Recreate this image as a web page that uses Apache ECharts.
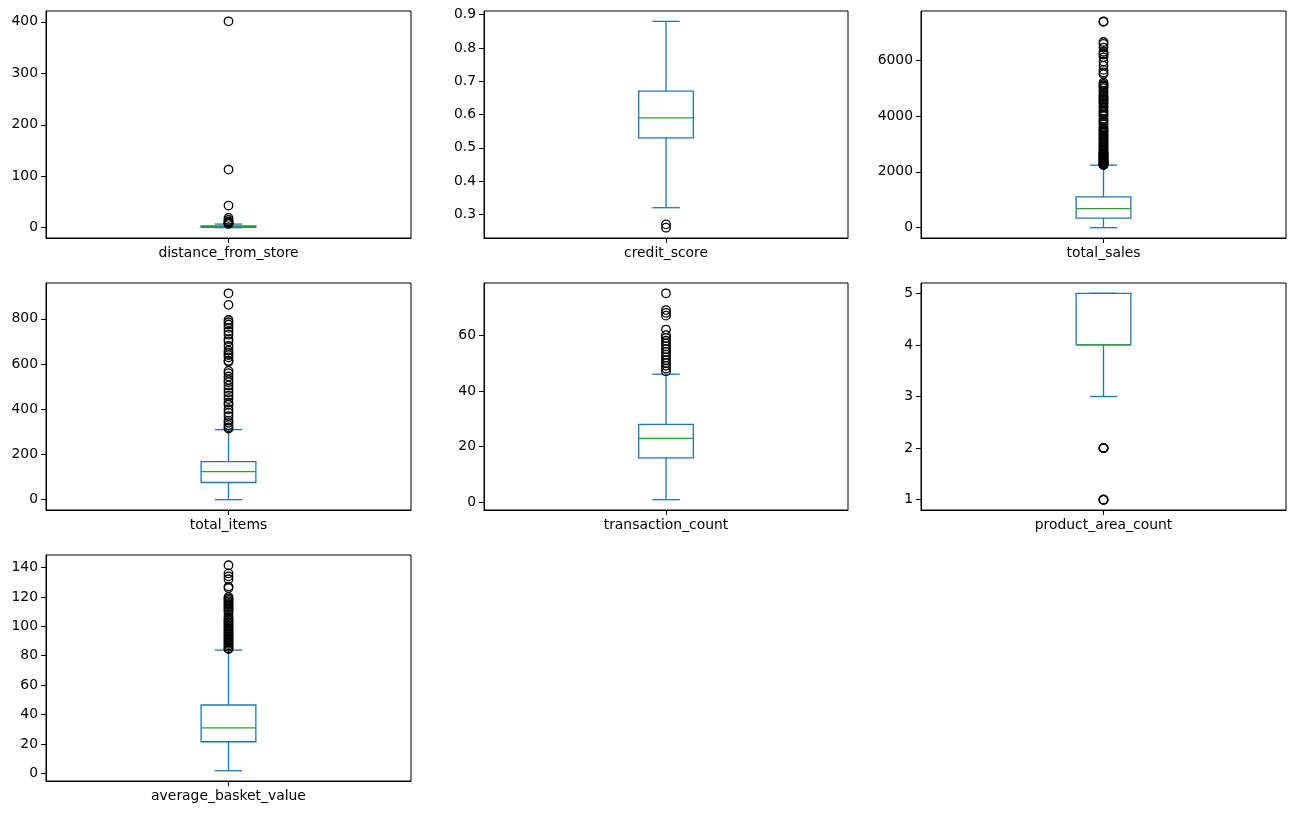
<!DOCTYPE html>
<html>
<head>
<meta charset="utf-8">
<script src="https://cdn.jsdelivr.net/npm/echarts@6/dist/echarts.min.js"></script>
<style>
html,body{margin:0;padding:0;background:#fff;}
#chart{width:1296px;height:815px;}
</style>
</head>
<body>
<div id="chart"></div>
<script>
// ---- DATA ----
const categories = ['distance_from_store','credit_score','total_sales','total_items','transaction_count','product_area_count','average_basket_value'];

// box stats: [lowWhisker, Q1, median, Q3, highWhisker]
const distanceBox = [0, 0.7, 1.6, 3.3, 7];
const creditBox = [0.32, 0.53, 0.59, 0.67, 0.88];
const salesBox = [0, 345, 683, 1100, 2239];
const itemsBox = [0, 76, 124, 168, 310];
const transactionBox = [1, 16, 23, 28, 46];
const productAreaBox = [3, 4, 4, 5, 5];
const basketBox = [1.8, 21.5, 31, 46.5, 83.8];

const distanceOutliers = [401, 113, 43, 19, 15, 12, 10, 9, 8, 7.5];
const creditOutliers = [0.26, 0.27];
const salesOutliers = [7390, 7370, 6650, 6580, 6450, 6300, 6240, 6200, 6100, 5950, 5800, 5650, 5560, 5500, 5200, 5150, 5100, 5050, 5000, 4900, 4850, 4750, 4700, 4650, 4600, 4550, 4500, 4450, 4350, 4300, 4200, 4150, 4100, 4050, 4000, 3900, 3850, 3800, 3750, 3700, 3600, 3550, 3500, 3450, 3400, 3350, 3300, 3250, 3200, 3150, 3100, 3050, 3000, 2950, 2900, 2850, 2800, 2750, 2700, 2680, 2650, 2620, 2600, 2580, 2550, 2520, 2500, 2480, 2450, 2420, 2400, 2380, 2350, 2320, 2300, 2280, 2270, 2260, 2250, 2245];
const itemsOutliers = [913, 862, 795, 785, 775, 760, 745, 730, 710, 700, 680, 660, 650, 640, 630, 615, 610, 570, 560, 545, 530, 520, 505, 490, 475, 460, 445, 430, 420, 400, 385, 370, 350, 340, 330, 320, 315];
const transactionOutliers = [75, 69, 68, 67, 62, 60, 59, 58, 57, 56, 55, 54, 53, 52, 51, 50, 49, 48, 47];
const productAreaOutliers = [2, 2, 2, 2, 1, 1, 1, 1];
const basketOutliers = [141.5, 136, 134, 132, 127, 126, 120, 119, 118, 117, 116, 115, 114, 113, 112, 111, 110, 108, 106, 105, 104, 103, 102, 101, 100, 99, 98, 97, 96, 95, 94, 93, 92, 91, 90, 89, 88, 87, 86, 85, 84.5];

const distanceTicks = [0, 100, 200, 300, 400];
const creditTicks = [0.3, 0.4, 0.5, 0.6, 0.7, 0.8, 0.9];
const salesTicks = [0, 2000, 4000, 6000];
const itemsTicks = [0, 200, 400, 600, 800];
const transactionTicks = [0, 20, 40, 60];
const productAreaTicks = [1, 2, 3, 4, 5];
const basketTicks = [0, 20, 40, 60, 80, 100, 120, 140];

// ---- LAYOUT ----
const boxes = [distanceBox, creditBox, salesBox, itemsBox, transactionBox, productAreaBox, basketBox];
const outliers = [distanceOutliers, creditOutliers, salesOutliers, itemsOutliers, transactionOutliers, productAreaOutliers, basketOutliers];
const ticks = [distanceTicks, creditTicks, salesTicks, itemsTicks, transactionTicks, productAreaTicks, basketTicks];
const decimals = [0, 1, 0, 0, 0, 0, 0];

const colLeft = [46, 484, 921];
const colWidth = [365, 364, 365];
const rowTop = [11, 283, 555];
const rowHeight = [227, 227, 226];

const FONT = 'DejaVu Sans';
const BLUE = '#1f77b4';
const GREEN = '#2ca02c';

const grids = [], xAxes = [], yAxes = [], series = [];
categories.forEach((name, i) => {
  const r = Math.floor(i / 3), c = i % 3;
  grids.push({left: colLeft[c], top: rowTop[r], width: colWidth[c], height: rowHeight[r],
    show: true, borderColor: '#000', borderWidth: 1, backgroundColor: 'transparent', containLabel: false});
  const all = boxes[i].concat(outliers[i]);
  const lo = Math.min.apply(null, all), hi = Math.max.apply(null, all);
  const pad = (hi - lo) * 0.05;
  xAxes.push({gridIndex: i, type: 'category', data: [name], boundaryGap: true, position: 'bottom',
    axisLine: {show: true, onZero: false, lineStyle: {color: '#000', width: 1}},
    axisTick: {show: true, alignWithLabel: true, length: 5, lineStyle: {color: '#000', width: 1}},
    axisLabel: {color: '#000', fontSize: 13.9, fontFamily: FONT, margin: 8},
    splitLine: {show: false}});
  const d = decimals[i];
  yAxes.push({gridIndex: i, type: 'value', min: lo - pad, max: hi + pad, position: 'left',
    axisLine: {show: true, onZero: false, lineStyle: {color: '#000', width: 1}},
    axisTick: {show: true, length: 5, customValues: ticks[i], lineStyle: {color: '#000', width: 1}},
    axisLabel: {show: true, customValues: ticks[i], color: '#000', fontSize: 13.9, fontFamily: FONT, margin: 8,
      formatter: v => Number(v).toFixed(d)},
    splitLine: {show: false}});
  series.push({
    type: 'custom', xAxisIndex: i, yAxisIndex: i, z: 2, silent: true,
    data: [[0].concat(boxes[i])],
    encode: {x: 0, y: [1, 2, 3, 4, 5]},
    renderItem: function (params, api) {
      const idx = api.value(0);
      const band = api.size([1, 0])[0];
      const bw = band * 0.15, cw = bw / 2;
      const cx = api.coord([idx, api.value(3)])[0];
      const yLow = api.coord([idx, api.value(1)])[1];
      const yQ1 = api.coord([idx, api.value(2)])[1];
      const yMed = api.coord([idx, api.value(3)])[1];
      const yQ3 = api.coord([idx, api.value(4)])[1];
      const yHigh = api.coord([idx, api.value(5)])[1];
      const ls = {stroke: BLUE, lineWidth: 1.3, fill: null};
      const line = (x1, y1, x2, y2, st) => ({type: 'line', shape: {x1, y1, x2, y2}, style: st});
      return {type: 'group', children: [
        {type: 'rect', shape: {x: cx - bw / 2, y: yQ3, width: bw, height: yQ1 - yQ3}, style: {stroke: BLUE, lineWidth: 1.3, fill: 'none'}},
        line(cx, yQ1, cx, yLow, ls),
        line(cx, yQ3, cx, yHigh, ls),
        line(cx - cw / 2, yLow, cx + cw / 2, yLow, ls),
        line(cx - cw / 2, yHigh, cx + cw / 2, yHigh, ls),
        line(cx - bw / 2, yMed, cx + bw / 2, yMed, {stroke: GREEN, lineWidth: 1.3})
      ]};
    }
  });
  series.push({
    type: 'scatter', xAxisIndex: i, yAxisIndex: i, z: 3, silent: true,
    symbol: 'circle', symbolSize: 8.5,
    itemStyle: {color: 'rgba(0,0,0,0)', borderColor: '#000', borderWidth: 1.3, opacity: 1},
    data: outliers[i].map(v => [0, v])
  });
});

const chart = echarts.init(document.getElementById('chart'), null, {renderer: 'canvas'});
chart.setOption({
  animation: false,
  backgroundColor: '#fff',
  grid: grids,
  xAxis: xAxes,
  yAxis: yAxes,
  series: series
});
</script>
</body>
</html>
